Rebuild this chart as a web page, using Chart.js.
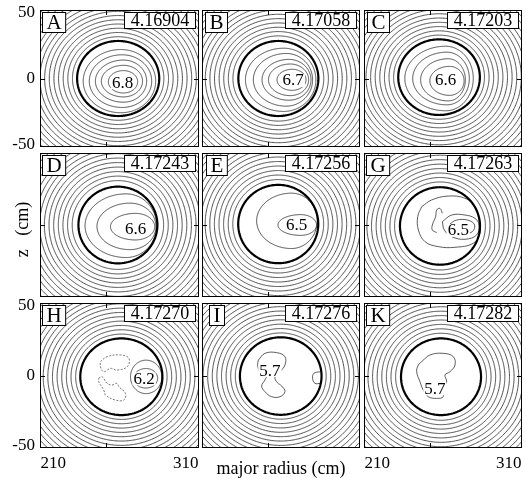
<!DOCTYPE html>
<html>
<head>
<meta charset="utf-8">
<script src="https://cdn.jsdelivr.net/npm/chart.js@4.4.1/dist/chart.umd.min.js"></script>
<style>
  body { margin: 0; background: #fff; width: 526px; height: 482px; position: relative; overflow: hidden; }
  canvas { position: absolute; }
</style>
</head>
<body>
<script>
// panel titles
const panelLetters = ['A', 'B', 'C', 'D', 'E', 'G', 'H', 'I', 'K'];
const panelTimes = ['4.16904', '4.17058', '4.17203', '4.17243', '4.17256', '4.17263', '4.17270', '4.17276', '4.17282'];

// peak value label and where it sits (major radius cm, z cm)
const peakLabels = ['6.8', '6.7', '6.6', '6.6', '6.5', '6.5', '6.2', '5.7', '5.7'];
const peakR = [262.3, 269.3, 262, 272.1, 271.9, 271.6, 278.5, 251.6, 253.9];
const peakZ = [-2.7, -1.1, -1.1, -2.4, 0, -3.6, -2, 3.9, -9.2];

// thick boundary contour of each panel
const edgeR = [259, 258, 257, 258.8, 257.9, 257.7, 261.4, 259.8, 258.5];
const edgeZ = [0, 0, 1, 0, 0.7, -0.7, -0.9, -0.4, -0.9];
const edgeHalfWidth = [31, 30.4, 31, 29.8, 30.4, 30.4, 31, 31, 30.4];
const edgeHalfHeight = [28.5, 28.5, 28.7, 27.7, 28.3, 28, 27.5, 27.8, 27.5];

// outer contour levels (half width in cm)
const outerLevels = [34.5, 38, 41.5, 45, 48.5, 52, 55.5, 59, 62.5, 66, 69.5, 73, 76.5, 80, 83.5, 87];

// inner contours: [centre R, centre z, left half width, right half width, half height]
const innerA = [[261, -2, 28.4, 26.3, 24], [262, -2, 24.8, 22.3, 20], [263, -2, 21.2, 17.5, 16], [263, -2, 16.7, 14.4, 12], [263, -2.5, 11.4, 10.7, 8.5]];
const innerB = [[262, -1, 29, 24.5, 24], [264, -1, 25, 20, 20], [266, -1, 20.4, 16.8, 15.5], [267, -1, 16.5, 14, 12], [268.5, -1, 11.5, 10.5, 8]];
const innerC = [[262, 0, 31, 21, 24.5], [263, 0, 26, 17, 20], [264, -1, 21, 13, 16], [265, -1.8, 15, 11, 11]];
const innerD = [[265, -0.5, 31, 23, 23], [268, -1, 25, 19.5, 16.8], [272, -1.2, 18.8, 14.6, 9.6]];
const innerE = [[268, 3, 26.5, 19.5, 20], [275, 0, 17.3, 12, 7.5]];
const innerH = [[280, -1, 11.7, 12, 12], [280, -2, 9.4, 8.8, 7]];

// irregular contours: [R, z]
const outerG = [[243.8, 13.2], [251.4, 18.1], [264, 20.9], [276.7, 19.3], [284.3, 13.2], [287.3, 3.6], [288.1, -6], [283, -13.2], [269.1, -16.1], [256.4, -15.6], [246.3, -12], [241.3, -3.6], [240.8, 6], [243.8, 13.2]];
const notchG = [[259.5, 8.4], [257.7, 12], [255.2, 10.8], [254.4, 6], [251.9, 0], [251.9, -3.6], [255.2, -5.5]];
const dropG1 = [[259.5, 2.4], [266.6, 7.2], [276.7, 7.2], [284.3, 4.8], [287.3, 0], [285.5, -7.2], [276.7, -10.3], [266.6, -8.4], [261, -3.6], [259.5, 2.4]];
const dropG2 = [[265, 0.5], [270, 3.5], [279, 3.5], [284, 0], [282, -5], [275, -6.5], [268, -4.5], [265, 0.5]];
const upperH = [[245.6, 9.9], [250.6, 13.5], [260.7, 14.7], [267.1, 12.3], [265.8, 6.3], [258.2, 3.9], [253.2, 5.1], [248.1, 2.7], [245.6, 6.3], [245.6, 9.9]];
const lowerH = [[244.3, -2], [246.8, -0.8], [250.6, -5.6], [254.4, -6.8], [258.2, -5.6], [259.5, -8], [264.5, -12.8], [263.3, -17.6], [256.9, -17.6], [249.4, -14], [248.1, -10.4], [244.3, -4.4], [244.3, -2]];
const blobI = [[242.8, 11.1], [247.8, 15.9], [256.7, 16.4], [263, 13.5], [263, 7.5], [259.2, 2.7], [255.4, -1.3], [257.2, -5.1], [260.5, -7.5], [263, -11.6], [259.2, -15.2], [252.9, -15.2], [247.8, -11.6], [245.3, -7.5], [247.8, -3.2], [249.1, 0.4], [244, 2.7], [242.3, 7.5], [242.8, 11.1]];
const bumpI = [[289.6, 2.7], [285, 1.6], [284, -2], [285.8, -5.6], [290.1, -5.6]];
const blobK = [[243.8, 9.9], [250.1, 14.7], [260.2, 15.9], [267.8, 13.5], [269.1, 7.5], [265.3, 2.7], [261.5, 0.4], [262.8, -4.4], [260.2, -9.2], [260.2, -15.2], [255.2, -16.4], [248.8, -15.2], [245, -10.4], [242.5, -4.4], [240, 2.7], [241.3, 7.5], [243.8, 9.9]];

const innerContours = [innerA, innerB, innerC, innerD, innerE, [], innerH, [], []];
const traced = [[], [], [], [], [], [outerG, notchG, dropG1, dropG2], [upperH, lowerH], [blobI, bumpI], [blobK]];

// axes
const rRange = [200, 320];
const zRange = [-52, 52];
const rTicks = [210, 310];
const zTicks = [-50, 0, 50];
const edgeTickR = 250;

// page layout of the 3x3 grid
const colLeft = [40, 202, 364], colWidth = [159, 158, 158];
const rowTop = [10, 153, 303], rowHeight = [137, 144, 145];

const serif = '"Liberation Serif", "Times New Roman", serif';

function ellipse(cx, cz, rL, rR, rz) {
  const pts = [];
  for (let k = 0; k <= 120; k++) {
    const t = k / 120 * 2 * Math.PI;
    const c = Math.cos(t);
    pts.push({x: cx + c * (c < 0 ? rL : rR), y: cz + Math.sin(t) * rz});
  }
  return pts;
}

// boxes, labels and frame for each panel
const panelDeco = {
  id: 'panelDeco',
  afterDatasetsDraw(chart, args, opts) {
    const i = opts.index;
    const {ctx, chartArea: a} = chart;
    const x = chart.scales.x, y = chart.scales.y;
    ctx.save();
    // peak value
    ctx.font = '17px ' + serif;
    ctx.textAlign = 'center';
    ctx.textBaseline = 'middle';
    const px = x.getPixelForValue(peakR[i]), py = y.getPixelForValue(peakZ[i]);
    const tw = ctx.measureText(peakLabels[i]).width;
    ctx.fillStyle = '#fff';
    ctx.fillRect(px - tw / 2 - 1, py - 6, tw + 2, 13);
    ctx.fillStyle = '#000';
    ctx.fillText(peakLabels[i], px, py + 1);

    // frame + edge ticks
    ctx.strokeStyle = '#000';
    ctx.lineWidth = 1;
    ctx.strokeRect(a.left + 0.5, a.top + 0.5, a.right - a.left - 1, a.bottom - a.top - 1);
    const tx = Math.round(x.getPixelForValue(edgeTickR)) + 0.5;
    const tz = Math.round(y.getPixelForValue(0)) + 0.5;
    ctx.beginPath();
    ctx.moveTo(tx, a.top); ctx.lineTo(tx, a.top + 5);
    ctx.moveTo(tx, a.bottom); ctx.lineTo(tx, a.bottom - 5);
    ctx.moveTo(a.left, tz); ctx.lineTo(a.left + 5, tz);
    ctx.moveTo(a.right, tz); ctx.lineTo(a.right - 5, tz);
    ctx.stroke();

    // letter box
    ctx.font = '21px ' + serif;
    const lw = ctx.measureText(panelLetters[i]).width + 8;
    const lx = Math.round(a.left + 14 - lw / 2) + 0.5;
    ctx.fillStyle = '#fff';
    ctx.fillRect(lx, a.top + 2.5, lw, 20);
    ctx.strokeRect(lx, a.top + 2.5, lw, 20);
    ctx.fillStyle = '#000';
    ctx.fillText(panelLetters[i], lx + lw / 2, a.top + 13.5);

    // time box
    ctx.font = '18px ' + serif;
    const bw = Math.round(ctx.measureText(panelTimes[i]).width + 12);
    const bx = Math.round(a.right - 4 - bw) + 0.5;
    ctx.fillStyle = '#fff';
    ctx.fillRect(bx, a.top + 2.5, bw, 16);
    ctx.strokeRect(bx, a.top + 2.5, bw, 16);
    ctx.fillStyle = '#000';
    ctx.fillText(panelTimes[i], bx + bw / 2, a.top + 11.5);
    ctx.restore();
  }
};

function drawPanel(i) {
  const col = i % 3, row = Math.floor(i / 3);
  const L = colLeft[col], T = rowTop[row], W = colWidth[col], H = rowHeight[row];
  const cv = document.createElement('canvas');
  cv.width = W + 40;
  cv.height = H + 42;
  cv.style.left = (L - 40) + 'px';
  cv.style.top = (T - 10) + 'px';
  document.body.appendChild(cv);

  const datasets = [];
  // small tension keeps Chart.js off its fast path, which garbles closed curves
  const addLine = (pts, width, color, dash, tension) => datasets.push({
    data: pts, showLine: true, pointRadius: 0, fill: false,
    borderColor: color, borderWidth: width, borderDash: dash || [], tension: tension || 0.01
  });

  const ratio = edgeHalfHeight[i] / edgeHalfWidth[i];
  outerLevels.forEach(r => addLine(ellipse(edgeR[i], edgeZ[i], r, r, r * ratio), 0.8, '#222'));
  addLine(ellipse(edgeR[i], edgeZ[i], edgeHalfWidth[i], edgeHalfWidth[i], edgeHalfHeight[i]), 2.2, '#000');
  innerContours[i].forEach(c => addLine(ellipse(c[0], c[1], c[2], c[3], c[4]), 0.8, '#222'));
  traced[i].forEach(t => addLine(t.map(p => ({x: p[0], y: p[1]})), 0.8, i === 6 ? '#555' : '#333', i === 6 ? [2, 1.5] : [], 0.4));

  new Chart(cv, {
    type: 'scatter',
    data: {datasets: datasets},
    options: {
      responsive: false,
      animation: false,
      devicePixelRatio: 1,
      events: [],
      layout: {padding: {top: 10, left: 0, right: 0, bottom: 0}},
      plugins: {legend: {display: false}, tooltip: {enabled: false}, panelDeco: {index: i}},
      scales: {
        x: {
          type: 'linear', min: rRange[0], max: rRange[1],
          grid: {display: false, drawTicks: false}, border: {display: false},
          afterBuildTicks: s => { s.ticks = rTicks.map(v => ({value: v})); },
          afterFit: s => { s.height = 32; s.paddingLeft = 0; s.paddingRight = 0; },
          ticks: {display: row === 2 && col !== 1, padding: 5, color: '#000', maxRotation: 0, autoSkip: false,
                  font: {family: serif, size: 17}},
          title: {display: row === 2 && col === 1, text: 'major radius (cm)', color: '#000',
                  font: {family: serif, size: 18}, padding: {top: 0, bottom: 0}}
        },
        y: {
          type: 'linear', min: zRange[0], max: zRange[1],
          grid: {display: false, drawTicks: false}, border: {display: false},
          afterBuildTicks: s => { s.ticks = zTicks.map(v => ({value: v})); },
          afterFit: s => { s.width = 40; s.paddingTop = 0; s.paddingBottom = 0; },
          ticks: {display: col === 0 && row !== 1, padding: 5, color: '#000', autoSkip: false,
                  font: {family: serif, size: 17}},
          title: {display: col === 0 && row === 1, text: 'z   (cm)  ', color: '#000',
                  font: {family: serif, size: 18}, padding: {top: 12, bottom: 0}}
        }
      }
    },
    plugins: [panelDeco]
  });
}

for (let i = 0; i < 9; i++) drawPanel(i);
</script>
</body>
</html>
